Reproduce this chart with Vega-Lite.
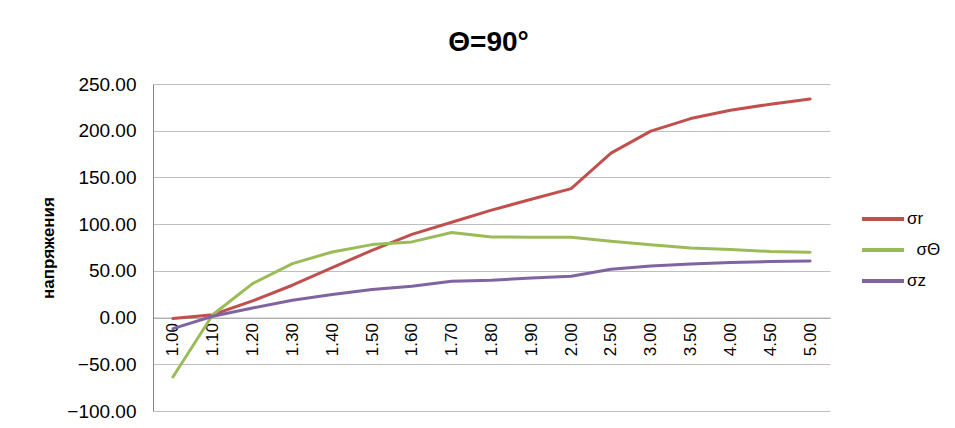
{
  "$schema": "https://vega.github.io/schema/vega-lite/v6.json",
  "autosize": {"type": "none"},
  "padding": {"left": 153, "top": 84, "right": 125, "bottom": 17},
  "width": 677,
  "height": 327,
  "background": "white",
  "title": {"text": "Θ=90°", "fontSize": 28, "fontWeight": "bold", "font": "Liberation Sans", "color": "#000000", "offset": 18, "anchor": "middle", "dx": -3},
  "data": {"values": [
    {"x": "1.00", "s": "σr", "v": -1}, {"x": "1.10", "s": "σr", "v": 3}, {"x": "1.20", "s": "σr", "v": 17.8}, {"x": "1.30", "s": "σr", "v": 34.6}, {"x": "1.40", "s": "σr", "v": 53.5}, {"x": "1.50", "s": "σr", "v": 72}, {"x": "1.60", "s": "σr", "v": 89}, {"x": "1.70", "s": "σr", "v": 102}, {"x": "1.80", "s": "σr", "v": 115}, {"x": "1.90", "s": "σr", "v": 126.6}, {"x": "2.00", "s": "σr", "v": 138}, {"x": "2.50", "s": "σr", "v": 176}, {"x": "3.00", "s": "σr", "v": 199.5}, {"x": "3.50", "s": "σr", "v": 213}, {"x": "4.00", "s": "σr", "v": 222}, {"x": "4.50", "s": "σr", "v": 228.4}, {"x": "5.00", "s": "σr", "v": 234},
    {"x": "1.00", "s": "\u200b\u00a0\u00a0σΘ", "v": -63.6}, {"x": "1.10", "s": "\u200b\u00a0\u00a0σΘ", "v": 3}, {"x": "1.20", "s": "\u200b\u00a0\u00a0σΘ", "v": 36.4}, {"x": "1.30", "s": "\u200b\u00a0\u00a0σΘ", "v": 57.8}, {"x": "1.40", "s": "\u200b\u00a0\u00a0σΘ", "v": 70.2}, {"x": "1.50", "s": "\u200b\u00a0\u00a0σΘ", "v": 78.1}, {"x": "1.60", "s": "\u200b\u00a0\u00a0σΘ", "v": 81}, {"x": "1.70", "s": "\u200b\u00a0\u00a0σΘ", "v": 91}, {"x": "1.80", "s": "\u200b\u00a0\u00a0σΘ", "v": 86.3}, {"x": "1.90", "s": "\u200b\u00a0\u00a0σΘ", "v": 86}, {"x": "2.00", "s": "\u200b\u00a0\u00a0σΘ", "v": 86}, {"x": "2.50", "s": "\u200b\u00a0\u00a0σΘ", "v": 81.7}, {"x": "3.00", "s": "\u200b\u00a0\u00a0σΘ", "v": 78}, {"x": "3.50", "s": "\u200b\u00a0\u00a0σΘ", "v": 74.5}, {"x": "4.00", "s": "\u200b\u00a0\u00a0σΘ", "v": 72.8}, {"x": "4.50", "s": "\u200b\u00a0\u00a0σΘ", "v": 70.7}, {"x": "5.00", "s": "\u200b\u00a0\u00a0σΘ", "v": 70},
    {"x": "1.00", "s": "σz", "v": -11.8}, {"x": "1.10", "s": "σz", "v": 1.4}, {"x": "1.20", "s": "σz", "v": 10.3}, {"x": "1.30", "s": "σz", "v": 18.5}, {"x": "1.40", "s": "σz", "v": 24.6}, {"x": "1.50", "s": "σz", "v": 30}, {"x": "1.60", "s": "σz", "v": 33.5}, {"x": "1.70", "s": "σz", "v": 38.9}, {"x": "1.80", "s": "σz", "v": 40}, {"x": "1.90", "s": "σz", "v": 42.4}, {"x": "2.00", "s": "σz", "v": 44.2}, {"x": "2.50", "s": "σz", "v": 51.7}, {"x": "3.00", "s": "σz", "v": 55.3}, {"x": "3.50", "s": "σz", "v": 57.4}, {"x": "4.00", "s": "σz", "v": 58.9}, {"x": "4.50", "s": "σz", "v": 60}, {"x": "5.00", "s": "σz", "v": 60.6}
  ]},
  "mark": {"type": "line", "strokeWidth": 3, "strokeCap": "round", "strokeJoin": "round"},
  "encoding": {
    "x": {
      "field": "x", "type": "ordinal", "sort": null,
      "scale": {"type": "point", "padding": 0.5},
      "axis": {
        "title": null, "orient": "bottom", "offset": -93.4,
        "labelAngle": -90, "labelAlign": "right", "labelBaseline": "middle",
        "labelPadding": 5, "labelFontSize": 17, "labelFont": "Liberation Sans", "labelColor": "#000000",
        "ticks": false, "grid": false, "domainColor": "#A6A6A6", "domainWidth": 1
      }
    },
    "y": {
      "field": "v", "type": "quantitative",
      "scale": {"domain": [-100, 250], "nice": false, "zero": false},
      "axis": {
        "title": "напряжения", "titleFont": "Liberation Sans", "titleFontSize": 17, "titleFontWeight": "bold", "titleColor": "#000000",
        "titleX": -105, "titleY": 163.5, "titleBaseline": "middle", "titleAngle": -90, "titleAlign": "center",
        "values": [-100, -50, 0, 50, 100, 150, 200, 250], "format": ".2f",
        "labelFontSize": 19, "labelFont": "Liberation Sans", "labelColor": "#000000", "labelPadding": 17,
        "ticks": false, "grid": true, "gridColor": "#BFBFBF", "gridWidth": 1,
        "domainColor": "#868686", "domainWidth": 1
      }
    },
    "color": {
      "field": "s", "type": "nominal",
      "scale": {"domain": ["σr", "\u200b\u00a0\u00a0σΘ", "σz"], "range": ["#C0504D", "#9BBB59", "#8064A2"]},
      "legend": {
        "title": null, "orient": "none", "legendX": 707, "legendY": 112,
        "symbolType": "stroke", "symbolSize": 1764, "symbolStrokeWidth": 4,
        "labelFontSize": 17, "labelFont": "Liberation Sans", "labelColor": "#000000",
        "labelOffset": 1, "rowPadding": -11.5
      }
    }
  },
  "config": {"view": {"stroke": null}}
}
